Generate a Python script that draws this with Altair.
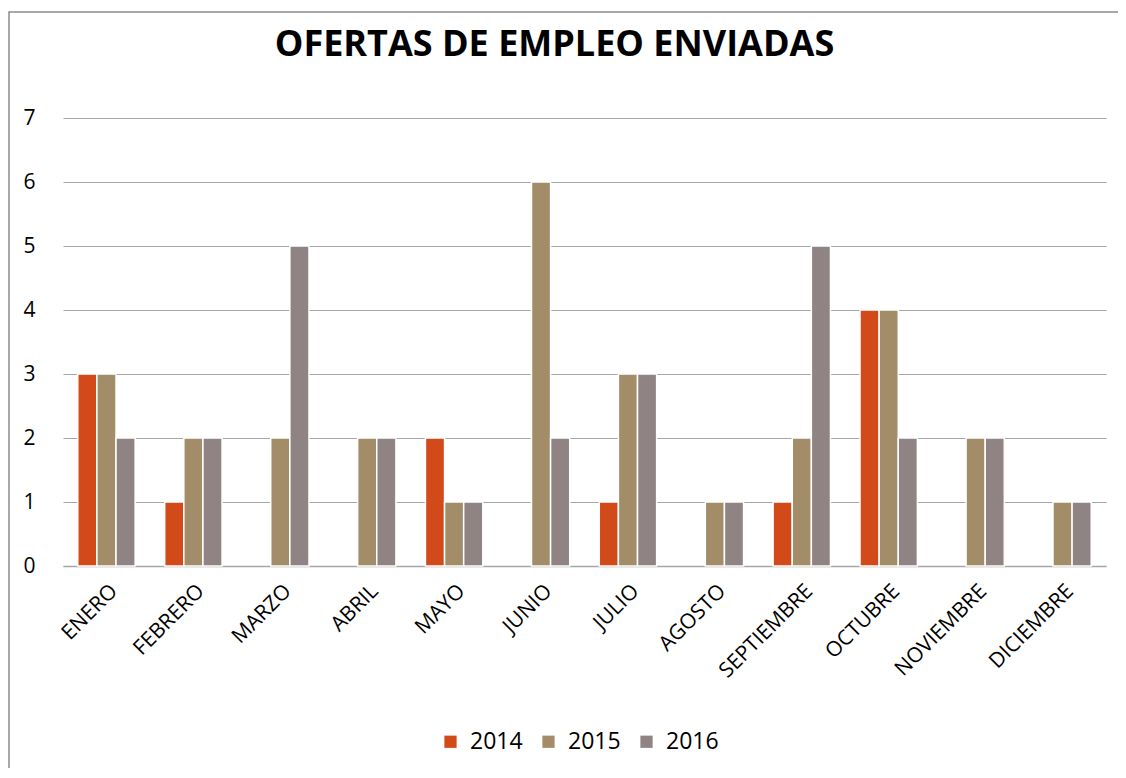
import altair as alt
import pandas as pd

months = ["ENERO", "FEBRERO", "MARZO", "ABRIL", "MAYO", "JUNIO", "JULIO",
          "AGOSTO", "SEPTIEMBRE", "OCTUBRE", "NOVIEMBRE", "DICIEMBRE"]
years = ["2014", "2015", "2016"]
v2014 = [3, 1, 0, 0, 2, 0, 1, 0, 1, 4, 0, 0]
v2015 = [3, 2, 2, 2, 1, 6, 3, 1, 2, 4, 2, 1]
v2016 = [2, 2, 5, 2, 1, 2, 3, 1, 5, 2, 2, 1]
colors = ["#D24A19", "#A38D68", "#8F8483"]

rows = []
for y, vals in zip(years, [v2014, v2015, v2016]):
    for m, v in zip(months, vals):
        rows.append({"mes": m, "anio": y, "valor": v})
df = pd.DataFrame(rows)
df = df[df["valor"] > 0]

FONT = "Open Sans"
GRID = "#A6A6A6"

bars = alt.Chart(df).mark_bar(stroke="white", strokeWidth=1.5).encode(
    x=alt.X("mes:N", sort=months, title=None,
            scale=alt.Scale(domain=months, paddingInner=0.34, paddingOuter=0.17),
            axis=alt.Axis(labelAngle=-45, labelFontSize=21, labelFont=FONT,
                          labelColor="#000000", labelPadding=14, ticks=False,
                          domain=True, domainColor=GRID, domainWidth=1.5,
                          grid=False)),
    xOffset=alt.XOffset("anio:N", scale=alt.Scale(domain=years)),
    y=alt.Y("valor:Q", title=None,
            scale=alt.Scale(domain=[0, 7], nice=False),
            axis=alt.Axis(values=[0, 1, 2, 3, 4, 5, 6, 7], labelFontSize=21,
                          labelFont=FONT, labelColor="#000000", labelPadding=28,
                          ticks=False, domain=False, grid=True,
                          gridColor=GRID, gridWidth=1.2)),
    color=alt.Color("anio:N", scale=alt.Scale(domain=years, range=colors),
                    legend=alt.Legend(title=None, orient="none", direction="horizontal",
                                      legendX=376, legendY=612,
                                      symbolType="square", symbolSize=150,
                                      symbolStrokeWidth=0, labelFontSize=23,
                                      labelFont=FONT, labelColor="#000000",
                                      labelOffset=8, columnPadding=14)),
)

border = alt.Chart(pd.DataFrame({"a": [0]})).mark_rect(
    fill="transparent", stroke="#8C8C8C", strokeWidth=1.5
).encode(x=alt.value(-54), x2=alt.value(1200), y=alt.value(-106), y2=alt.value(800))

chart = alt.layer(border, bars).properties(
    width=1043, height=448,
    title=alt.TitleParams("OFERTAS DE EMPLEO ENVIADAS", fontSize=36, font=FONT,
                          fontWeight="bold", color="#000000", anchor="middle",
                          dx=-30, offset=-81, baseline="alphabetic"),
    autosize=alt.AutoSizeParams(type="none"),
    padding={"left": 55, "top": 110, "right": 12, "bottom": 202},
).configure_view(stroke=None)

chart.save("out.html", embed_options={"renderer": "svg", "actions": False})
